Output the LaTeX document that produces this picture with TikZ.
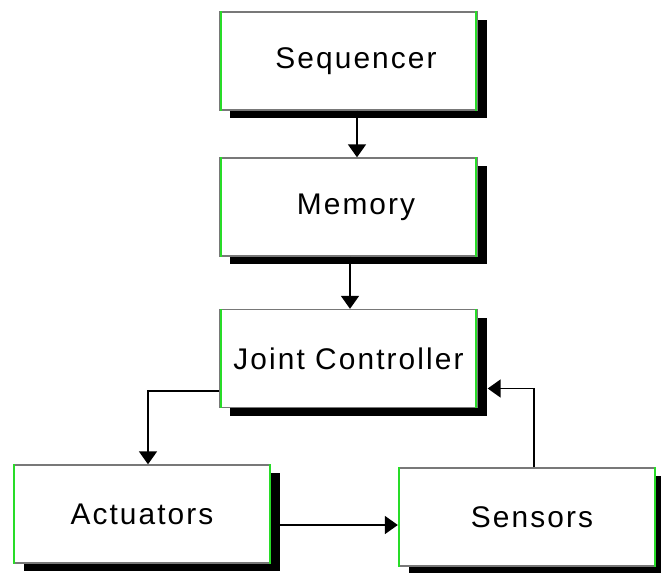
\documentclass[tikz,border=0pt]{standalone}
\usepackage{fontspec}
\setmainfont{Liberation Sans}
\usetikzlibrary{positioning, arrows.meta, shadows}
\definecolor{edgegreen}{RGB}{40, 220, 40}
\definecolor{edgegray}{RGB}{120, 120, 120}

\begin{document}
\begin{tikzpicture}[x=0.02cm, y=-0.02cm,
        block/.style={draw=edgegray, line width=0.8pt, fill=white,
              inner sep=0pt, minimum width=5.14cm, minimum height=1.96cm,
              font=\fontsize{17}{20}\selectfont\addfontfeature{LetterSpace=7},
              general shadow={fill=black, shadow xshift=0.2cm,
                              shadow yshift=-0.16cm}},
        link/.style={draw=black, line width=1pt,
              -{Triangle[width=0.36cm, length=0.26cm]}}]
        \useasboundingbox[fill=white] (0, 0) rectangle (661, 572);
        % the five blocks
        \node[block] (seq) at (348.5, 61) {\hspace{0.3cm}Sequencer};
        \node[block] (mem) at (348.5, 207) {\hspace{0.3cm}Memory};
        \node[block] (joint) at (348.5, 358.5) {Joint Controller};
        \node[block] (act) at (142, 514) {Actuators};
        \node[block] (sens) at (527, 517) {\hspace{0.2cm}Sensors};
        % green sides
        \foreach \b in {seq, mem, joint, act, sens} {
            \draw[edgegreen, line width=1.3pt]
                ([xshift=0.03cm]\b.north west) -- ([xshift=0.03cm]\b.south west);
            \draw[edgegreen, line width=1.1pt]
                ([xshift=-0.03cm]\b.north east) -- ([xshift=-0.03cm]\b.south east);
        }
        % connections
        \draw[link] ([xshift=0.17cm]seq.south)
            -- ([xshift=0.17cm]mem.north);
        \draw[link] ([xshift=0.03cm]mem.south)
            -- ([xshift=0.03cm]joint.north);
        \draw[link] ([yshift=-0.65cm]joint.west)
            -| ([xshift=0.12cm]act.north);
        \draw[link] ([yshift=-0.22cm]act.east)
            -- ([yshift=-0.16cm]sens.west);
        \draw[link] ([xshift=0.14cm]sens.north)
            |- ([xshift=0.2cm, yshift=-0.6cm]joint.east);
    \end{tikzpicture}
\end{document}
